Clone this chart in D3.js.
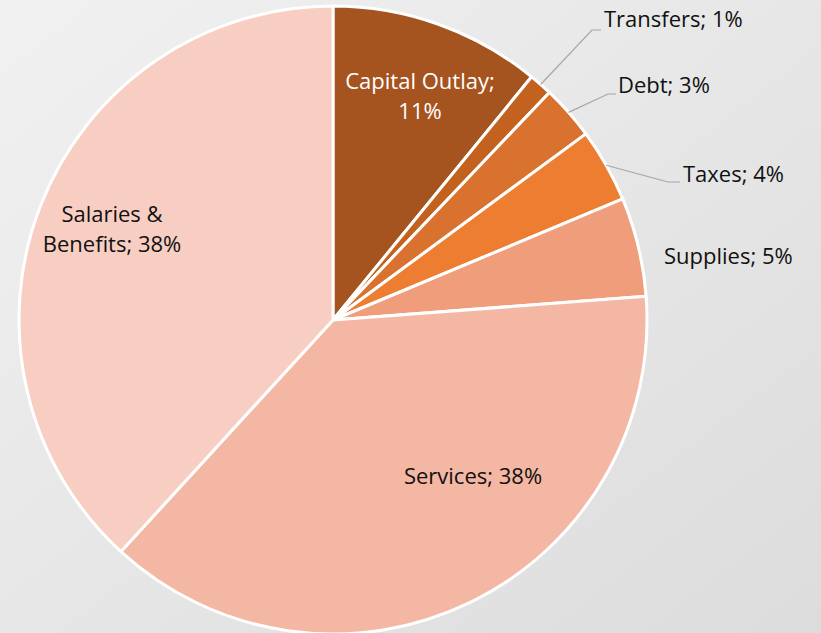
<!DOCTYPE html>
<html>
<head>
<meta charset="utf-8">
<script src="https://cdn.jsdelivr.net/npm/d3@7"></script>
<style>
  body { margin: 0; }
  svg { display: block; }
</style>
</head>
<body>
<div id="chart"></div>
<script>
// slices, clockwise from 12 o'clock
var categories = ["Capital Outlay", "Transfers", "Debt", "Taxes", "Supplies", "Services", "Salaries & Benefits"];
var values = [10.9, 1.2, 2.8, 3.8, 5.1, 38.0, 38.2];
var labels = ["11%", "1%", "3%", "4%", "5%", "38%", "38%"];
var colors = ["#a5541f", "#c3621f", "#d8722e", "#ed7d31", "#f09d7b", "#f4b7a3", "#f8cec3"];

var svgWidth = 821;
var svgHeight = 633;
var cx = 333, cy = 320, radius = 314;

var svg = d3.select("#chart")
    .append("svg")
    .attr("width", svgWidth)
    .attr("height", svgHeight);

// grey background gradient
var defs = svg.append("defs");
var grad = defs.append("linearGradient")
    .attr("id", "bg")
    .attr("x1", "0%").attr("y1", "0%")
    .attr("x2", "100%").attr("y2", "100%");
grad.append("stop").attr("offset", "0%").attr("stop-color", "#f1f1f1");
grad.append("stop").attr("offset", "100%").attr("stop-color", "#dcdcdc");

svg.append("rect")
    .attr("width", svgWidth)
    .attr("height", svgHeight)
    .attr("fill", "url(#bg)");

var data = categories.map(function(c, i) {
    return {name: c, value: values[i], label: labels[i], color: colors[i]};
});

var pie = d3.pie()
    .sort(null)
    .value(d => d.value);

var arc = d3.arc()
    .innerRadius(0)
    .outerRadius(radius);

var arcs = pie(data);

var chartGroup = svg.append("g")
    .attr("transform", `translate(${cx},${cy})`);

chartGroup.selectAll("path")
    .data(arcs)
    .enter()
    .append("path")
    .attr("d", arc)
    .attr("fill", d => d.data.color)
    .attr("stroke", "#ffffff")
    .attr("stroke-width", 3)
    .attr("stroke-linejoin", "round");

// label layout: text position on the page, line breaks, leader elbow
var labelLayout = [
    {x: 420, y: 83, lines: ["Capital Outlay;", "11%"], fill: "#ffffff", anchor: "middle"},
    {x: 604, y: 21, lines: ["Transfers; 1%"], anchor: "start", elbow: [592, 30], end: [601, 30]},
    {x: 618, y: 87, lines: ["Debt; 3%"], anchor: "start", elbow: [608, 94], end: [616, 94]},
    {x: 683, y: 176, lines: ["Taxes; 4%"], anchor: "start", elbow: [668, 182], end: [680, 182]},
    {x: 664, y: 258, lines: ["Supplies; 5%"], anchor: "start"},
    {x: 473, y: 478, lines: ["Services; 38%"], anchor: "middle"},
    {x: 112, y: 216, lines: ["Salaries &", "Benefits; 38%"], anchor: "middle"}
];

var lineHeight = 30;

arcs.forEach(function(a, i) {
    var lay = labelLayout[i];
    if (lay.elbow) {
        var mid = (a.startAngle + a.endAngle) / 2;
        var sx = cx + Math.sin(mid) * radius;
        var sy = cy - Math.cos(mid) * radius;
        svg.append("polyline")
            .attr("points", [[sx, sy], lay.elbow, lay.end].map(p => p.join(",")).join(" "))
            .attr("fill", "none")
            .attr("stroke", "#a6a6a6")
            .attr("stroke-width", 1.2);
    }
    var t = svg.append("text")
        .attr("font-family", "'Open Sans', sans-serif")
        .attr("font-size", "22px")
        .attr("fill", lay.fill || "#111111")
        .attr("text-anchor", lay.anchor)
        .attr("dominant-baseline", "middle");
    lay.lines.forEach(function(l, k) {
        t.append("tspan")
            .attr("x", lay.x)
            .attr("y", lay.y + k * lineHeight)
            .text(l);
    });
});
</script>
</body>
</html>
